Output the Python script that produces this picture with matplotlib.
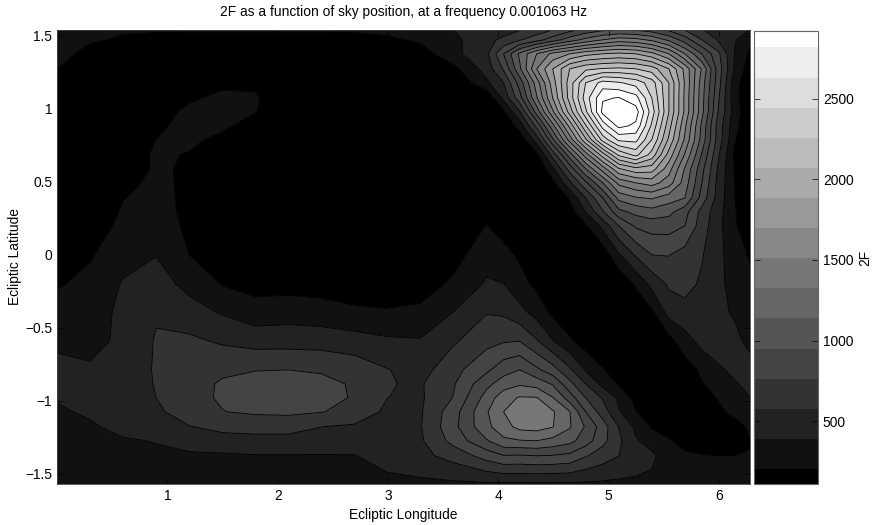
import matplotlib
matplotlib.use("Agg")
import matplotlib.pyplot as plt
import numpy as np
from matplotlib.colors import BoundaryNorm, ListedColormap
from matplotlib.cm import ScalarMappable

plt.rcParams['font.family'] = ['Liberation Sans', 'DejaVu Sans']
plt.rcParams['font.size'] = 9.9

# sky grid, denser around the two peaks. 2F values,
# rows go from south to north
lon = [0, 0.299, 0.599, 0.898, 1.198, 1.497, 1.797, 2.096, 2.395, 2.695, 2.994, 3.294, 3.593,
       3.892, 4.047, 4.192, 4.347, 4.492, 4.646, 4.791, 4.946, 5.091, 5.245, 5.39, 5.545,
       5.69, 5.844, 5.99, 6.144, 6.28]
lat = [-1.57, -1.377, -1.274, -1.178, -1.075, -0.979, -0.884, -0.788, -0.589, -0.39, -0.199, 0,
       0.199, 0.295, 0.39, 0.493, 0.589, 0.685, 0.788, 0.884, 0.979, 1.075, 1.178, 1.274,
       1.377, 1.473, 1.568]
two_f = np.array([
    [270, 280, 295, 300, 305, 310, 315, 320, 320, 325, 345, 345, 350, 355, 355, 355, 355, 355, 355, 352, 350, 345, 345, 345, 315, 300, 295, 290, 290, 290],
    [290, 300, 320, 350, 345, 350, 365, 365, 365, 370, 415, 470, 560, 700, 770, 765, 779, 770, 745, 655, 575, 510, 450, 400, 305, 255, 245, 240, 240, 245],
    [310, 325, 360, 380, 450, 480, 490, 490, 470, 430, 430, 490, 690, 900, 1022, 1040, 1049, 1008, 955, 846, 684, 536, 388, 320, 250, 205, 175, 165, 180, 230],
    [335, 355, 415, 480, 505, 530, 530, 530, 510, 490, 440, 500, 740, 1015, 1130, 1225, 1240, 1190, 1063, 900, 712, 505, 347, 225, 180, 160, 150, 150, 170, 270],
    [355, 395, 440, 490, 560, 640, 670, 680, 650, 600, 480, 495, 720, 1035, 1184, 1240, 1265, 1200, 1055, 779, 575, 388, 245, 180, 150, 140, 140, 200, 290, 335],
    [385, 410, 470, 509, 600, 660, 710, 730, 700, 630, 510, 490, 650, 968, 1130, 1195, 1190, 1055, 846, 644, 495, 347, 190, 150, 130, 130, 170, 250, 330, 374],
    [430, 415, 455, 515, 590, 660, 685, 690, 680, 630, 515, 495, 630, 875, 980, 1030, 995, 900, 685, 509, 335, 225, 165, 130, 115, 130, 230, 295, 365, 400],
    [415, 390, 440, 520, 560, 620, 640, 644, 630, 590, 515, 455, 600, 750, 860, 914, 805, 700, 536, 360, 250, 165, 130, 110, 115, 165, 270, 355, 400, 415],
    [345, 335, 400, 520, 535, 490, 455, 455, 450, 430, 395, 385, 490, 600, 630, 640, 520, 380, 260, 170, 110, 105, 105, 105, 190, 320, 420, 440, 400, 345],
    [300, 290, 415, 495, 425, 360, 295, 310, 295, 260, 250, 265, 374, 500, 485, 415, 320, 205, 125, 105, 105, 105, 130, 215, 430, 470, 440, 400, 360, 300],
    [225, 275, 385, 430, 335, 230, 190, 190, 180, 170, 160, 180, 260, 390, 375, 290, 205, 125, 105, 105, 105, 120, 260, 415, 530, 550, 490, 400, 335, 265],
    [130, 225, 325, 370, 239, 115, 105, 105, 105, 105, 105, 105, 190, 320, 290, 215, 120, 105, 105, 105, 150, 360, 525, 644, 650, 590, 520, 408, 310, 225],
    [110, 150, 280, 290, 220, 110, 105, 105, 105, 105, 105, 105, 110, 245, 170, 115, 105, 105, 105, 220, 415, 644, 800, 834, 834, 779, 575, 415, 260, 115],
    [105, 125, 255, 278, 215, 110, 105, 105, 105, 105, 105, 105, 105, 170, 115, 105, 105, 105, 175, 380, 630, 875, 955, 995, 955, 830, 595, 428, 250, 118],
    [105, 110, 235, 272, 215, 110, 105, 105, 105, 105, 105, 105, 105, 105, 105, 105, 105, 105, 255, 509, 779, 1090, 1170, 1200, 1115, 1049, 725, 455, 239, 120],
    [105, 105, 205, 268, 215, 110, 105, 105, 105, 105, 105, 105, 105, 105, 105, 105, 105, 200, 480, 750, 1049, 1360, 1454, 1510, 1386, 1118, 779, 470, 235, 125],
    [105, 105, 150, 260, 220, 110, 105, 105, 105, 105, 105, 105, 105, 105, 105, 105, 110, 347, 700, 1049, 1386, 1710, 1820, 1790, 1510, 1170, 820, 495, 225, 125],
    [105, 105, 150, 262, 230, 110, 105, 105, 105, 105, 105, 105, 105, 105, 105, 105, 190, 560, 980, 1386, 1790, 2155, 2305, 2075, 1670, 1305, 900, 535, 210, 125],
    [105, 105, 115, 240, 270, 200, 130, 105, 105, 105, 105, 105, 105, 105, 110, 150, 440, 887, 1373, 1832, 2318, 2560, 2575, 2264, 1832, 1430, 995, 590, 250, 125],
    [105, 105, 105, 220, 270, 270, 170, 105, 105, 105, 105, 105, 105, 105, 110, 300, 684, 1140, 1630, 2115, 2590, 2845, 2775, 2375, 1915, 1480, 1020, 590, 280, 125],
    [110, 105, 110, 180, 270, 300, 245, 140, 105, 105, 105, 105, 105, 130, 220, 495, 968, 1430, 1915, 2370, 2845, 2935, 2870, 2467, 1994, 1560, 1090, 644, 305, 125],
    [150, 125, 110, 115, 220, 265, 255, 130, 105, 105, 105, 105, 105, 115, 415, 725, 1170, 1590, 2050, 2467, 2790, 2810, 2720, 2399, 1994, 1560, 1100, 670, 280, 130],
    [200, 165, 140, 130, 190, 215, 215, 130, 110, 105, 105, 105, 110, 347, 509, 833, 1250, 1657, 2060, 2400, 2590, 2550, 2480, 2330, 1994, 1575, 1115, 710, 280, 150],
    [240, 190, 160, 135, 125, 120, 115, 115, 115, 115, 115, 115, 200, 430, 660, 1020, 1454, 1724, 1994, 2100, 2140, 2155, 2130, 2060, 1859, 1550, 1170, 725, 350, 170],
    [290, 195, 165, 145, 130, 125, 120, 120, 120, 120, 130, 175, 335, 480, 779, 1075, 1319, 1490, 1590, 1680, 1724, 1750, 1724, 1630, 1454, 1184, 914, 680, 360, 215],
    [330, 255, 225, 200, 190, 190, 190, 190, 190, 195, 215, 260, 340, 470, 540, 630, 725, 846, 980, 1090, 1184, 1250, 1225, 1155, 1020, 846, 644, 500, 385, 265],
    [350, 300, 260, 275, 280, 280, 280, 280, 280, 280, 295, 320, 385, 385, 410, 450, 500, 560, 640, 720, 770, 780, 770, 730, 650, 560, 480, 420, 380, 420],
])

contour_levels = [239, 374, 509, 644, 779, 914, 1049, 1184, 1319, 1454,
                  1589, 1724, 1859, 1994, 2129, 2264, 2399, 2534, 2669, 2804]
# which of the 16 greys each band between contours gets
band_grey = [0, 1, 2, 3, 4, 4, 5, 6, 7, 7, 8, 9, 10, 10, 11, 12, 12, 13, 14, 15, 15]
cbar_edges = [109, 202, 389, 576, 763, 950, 1137, 1324, 1511, 1698, 1885, 2072,
              2259, 2446, 2633, 2820, 2922]
cbar_ticks = [500, 1000, 1500, 2000, 2500]

greys = [(g / 15, g / 15, g / 15) for g in range(16)]

W, H = 879, 525
fig = plt.figure(figsize=(W / 100, H / 100), dpi=100)
ax = fig.add_axes([57 / W, 1 - 484 / H, 693 / W, 454 / H])
cax = fig.add_axes([754 / W, 1 - 484 / H, 64 / W, 453 / H])

levels = [100] + contour_levels + [3000]
ax.contourf(lon, lat, two_f, levels=levels, colors=[greys[g] for g in band_grey])
ax.contour(lon, lat, two_f, levels=contour_levels, colors='black', linewidths=0.6)

ax.set_xlim(0, 6.28)
ax.set_ylim(-1.57, 1.54)
ax.set_xticks([1, 2, 3, 4, 5, 6])
ax.set_yticks([-1.5, -1, -0.5, 0, 0.5, 1, 1.5])
ax.set_yticklabels(['\u22121.5', '\u22121', '\u22120.5', '0', '0.5', '1', '1.5'])
ax.tick_params(direction='in', top=True, right=True, length=4, width=0.5, labelsize=9.9)
for s in ax.spines.values():
    s.set_linewidth(0.6)
    s.set_color('#444444')
ax.set_xlabel('Ecliptic Longitude', labelpad=4)
ax.set_ylabel('Ecliptic Latitude', labelpad=2)
ax.set_title('2F as a function of sky position, at a frequency 0.001063 Hz', fontsize=9.9, pad=10)

# colour bar
norm = BoundaryNorm(cbar_edges, 16)
sm = ScalarMappable(norm=norm, cmap=ListedColormap(greys))
cb = fig.colorbar(sm, cax=cax, spacing='proportional', ticks=cbar_ticks)
cb.ax.minorticks_off()
cb.ax.tick_params(direction='in', left=True, right=True, length=4, width=0.5, labelsize=9.9)
cb.outline.set_linewidth(0.8)
cb.outline.set_edgecolor('#666666')
cb.set_label('2F', labelpad=3)

fig.savefig('out.png', dpi=100)
